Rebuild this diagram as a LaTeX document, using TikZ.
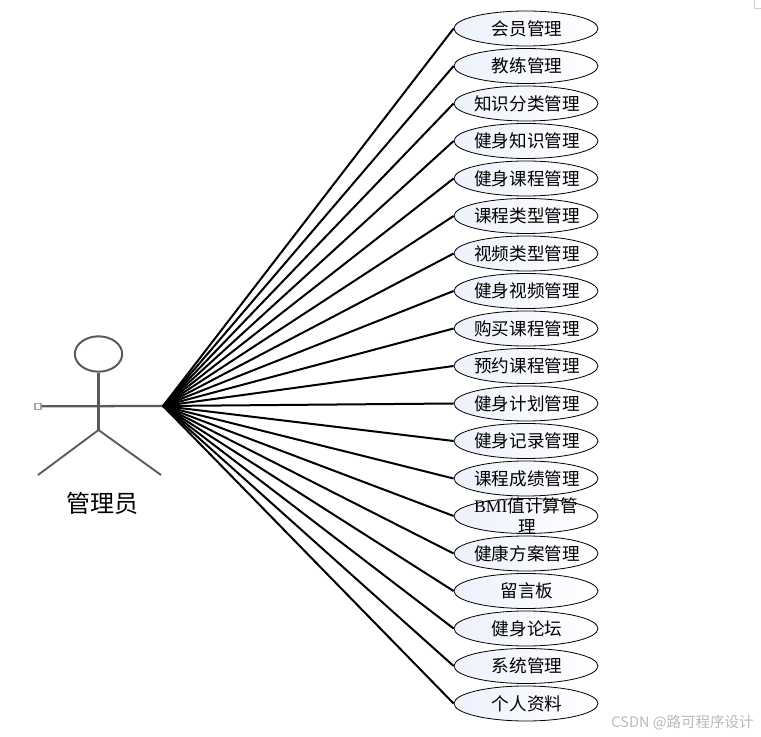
\documentclass[tikz,border=0pt]{standalone}
\usepackage{fontspec}
\setmainfont{Liberation Serif}
\newfontfamily\cjk{Noto Sans CJK SC}
\usetikzlibrary{shapes.geometric}
\definecolor{actorgray}{HTML}{5A5A5A}
\definecolor{ufill}{HTML}{EDF1FB}
\tikzset{
  usecase/.style={ellipse,draw=black,line width=0.6pt,minimum width=108pt,minimum height=26.25pt,inner xsep=-20pt,inner ysep=-12pt,
    left color=ufill,right color=white,shading angle=90,text=black,font=\fontsize{13.2}{15.75}\selectfont\cjk,align=center,
    execute at begin node={\hspace*{1.5pt}}},
  link/.style={draw=black,line width=1.5pt},
  actorline/.style={draw=actorgray,line width=1.7pt},
}
\begin{document}
\begin{tikzpicture}[x=0.75pt,y=-0.75pt]
\useasboundingbox (0,0) rectangle (761,737);
\draw[gray!40,line width=0.5pt] (754,0) -- (754,8) -- (761,8);
% actor
\node[ellipse,draw=actorgray,line width=1.5pt,minimum width=35.5pt,minimum height=26.5pt,inner sep=0pt] (head) at (98.5,354) {};
\coordinate (hub) at (163,406);
\coordinate (crotch) at (98.5,430);
\coordinate (lfoot) at (38,475);
\coordinate (rfoot) at (161,475);
\node[draw=gray!70,fill=white,line width=0.8pt,minimum size=4.5pt,inner sep=0pt] (hand) at (38,406.3) {};
\draw[actorline] (head.south) -- (crotch);
\draw[actorline] (hand.east) -- (hub);
\draw[actorline,line width=1.4pt] (lfoot) -- (crotch) -- (rfoot);
\node[font=\fontsize{18}{20}\selectfont\cjk] (actorlabel) at (102,503.5) {管理员};
% use cases
\foreach \i/\t [count=\n from 0] in {
 a/会员管理,b/教练管理,c/知识分类管理,d/健身知识管理,e/健身课程管理,f/课程类型管理,
 g/视频类型管理,h/健身视频管理,i/购买课程管理,j/预约课程管理,k/健身计划管理,l/健身记录管理,
 m/课程成绩管理,n/{\hspace*{-1.5pt}{\rmfamily BMI}值计算管\\[0.6pt]\hspace*{1pt}理},o/健康方案管理,p/留言板,q/健身论坛,r/系统管理,s/个人资料}{
  \pgfmathsetmacro{\yy}{28.5+37.5*\n}
  \node[usecase] (\i) at (526,\yy) {\t};
  \draw[link] (hub) -- (\i.west);
}
\node[text=gray!55,font=\fontsize{10.9}{12}\selectfont\cjk,anchor=east,inner sep=0pt] (mark) at (754,723) {CSDN @路可程序设计};
\end{tikzpicture}
\end{document}
